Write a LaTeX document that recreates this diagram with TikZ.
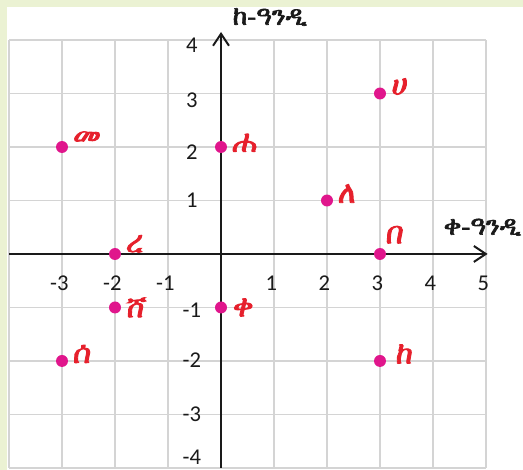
\documentclass[tikz,border=0pt]{standalone}
\usepackage{fontspec}
\setsansfont{Carlito}
\newfontfamily\ethfont[FakeBold=2.4]{FreeSerif}
\newfontfamily\ethslant[FakeBold=2.8,FakeSlant=0.12]{FreeSerif}
\usepackage{tikz}
\usetikzlibrary{arrows.meta}
\definecolor{ink}{HTML}{1A1A1A}
\definecolor{gridgray}{HTML}{D4D4D4}
\definecolor{paperbg}{HTML}{EBF2D3}
\definecolor{dotpink}{HTML}{E0168C}
\definecolor{labred}{HTML}{E6202C}
\tikzset{
  axisarr/.style={-{Straight Barb[length=9pt,width=12pt,line width=1.5pt]},line width=1.5pt,color=ink},
  gridline/.style={gridgray,line width=1.1pt},
  ticklab/.style={font=\sffamily\fontsize{17}{20}\selectfont,text=ink,inner sep=0pt},
  axislab/.style={font=\ethfont\fontsize{20}{24}\selectfont,text=ink,inner sep=0pt},
  ptdot/.style={circle,fill=dotpink,minimum size=9pt,inner sep=0pt},
  ptlab/.style={font=\ethslant\fontsize{23}{26}\selectfont,text=labred,inner sep=0pt,anchor=west}
}
\begin{document}
\begin{tikzpicture}[x=1.402cm,y=1.415cm]
  \useasboundingbox (-4.17,-4.037) rectangle (5.698,4.748);
  % page and green frame
  \fill[white] (-4.17,-4.037) rectangle (5.698,4.748);
  \fill[paperbg] (-4.17,4.617) rectangle (5.698,4.748);
  \fill[paperbg] (-4.17,-4.037) rectangle (-4.04,4.748);
  % grid
  \foreach \gx in {-4,...,5} {
    \draw[gridline] (\gx,-4) -- (\gx,4);
  }
  \foreach \gy in {-4,...,4} {
    \draw[gridline] (-4,\gy) -- (5,\gy);
  }
  % axes
  \coordinate (xstart) at (-4,0);
  \coordinate (xend) at (5.03,0);
  \coordinate (ystart) at (0,-4);
  \coordinate (yend) at (0,4.15);
  \draw[axisarr] (xstart) -- (xend);
  \draw[axisarr] (ystart) -- (yend);
  \node[axislab] (ylab) at (0.92,4.43) {ከ-ዓንዲ};
  \node[axislab] (xlab) at (4.93,0.5) {ቀ-ዓንዲ};
  % tick numbers
  \foreach \t in {-3,-2,-1,1,2,3,4,5} {
    \node[ticklab] (xt\t) at (\t-0.05,-0.54) {\t};
  }
  \foreach \t/\ty in {4/3.9,3/2.88,2/1.91,1/1.0,-1/-1.05,-2/-1.98,-3/-3.0,-4/-3.8} {
    \node[ticklab] (yt\t) at (-0.55,\ty) {\t};
  }
  % points
  \foreach \px/\py/\dx/\dy/\lab/\nm in {
      3/3/0.2/0.13/ሀ/ha, -3/2/0.19/0.17/መ/me, 0/2/0.2/0.08/ሐ/hha,
      2/1/0.19/0.13/ለ/le, -2/0/0.19/0.19/ረ/re, 3/0/0.09/0.36/በ/be,
      -2/-1/0.19/0/ሸ/she, 0/-1/0.2/0/ቀ/qe, -3/-2/0.19/0.13/ሰ/se,
      3/-2/0.28/0.13/ከ/ke} {
    \node[ptdot] (d-\nm) at (\px,\py) {};
    \node[ptlab] (l-\nm) at ({\px+\dx},{\py+\dy}) {\lab};
  }
\end{tikzpicture}
\end{document}
